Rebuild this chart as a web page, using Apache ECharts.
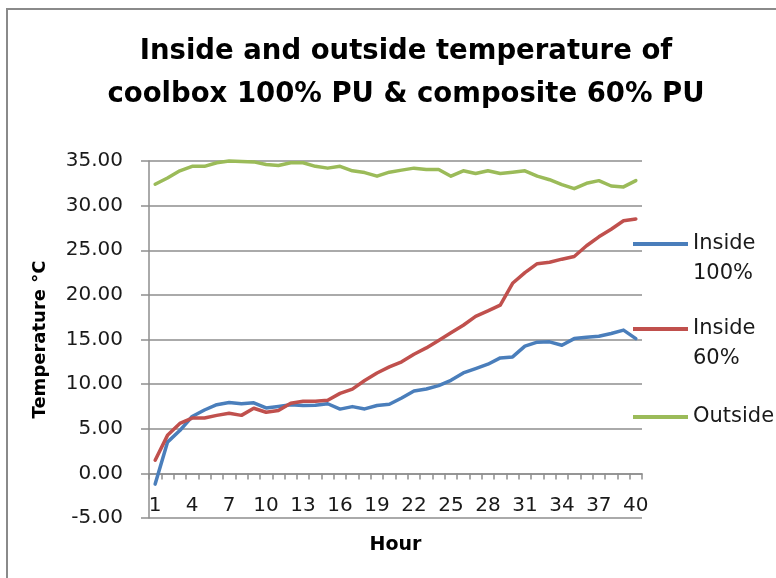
<!DOCTYPE html>
<html>
<head>
<meta charset="utf-8">
<script src="https://cdn.jsdelivr.net/npm/echarts@6.0.0/dist/echarts.min.js"></script>
<style>
  html, body { margin: 0; padding: 0; background: #ffffff; }
  #chart { width: 776px; height: 578px; }
</style>
</head>
<body>
<div id="chart"></div>
<script>
const hours = ['1','2','3','4','5','6','7','8','9','10','11','12','13','14','15','16','17','18','19','20',
               '21','22','23','24','25','26','27','28','29','30','31','32','33','34','35','36','37','38','39','40'];
const inside100 = [-1.2, 3.5, 4.8, 6.37, 7.1, 7.7, 7.93, 7.8, 7.9, 7.33, 7.5, 7.7, 7.6, 7.63, 7.8, 7.2, 7.48, 7.22, 7.6, 7.75,
                   8.45, 9.23, 9.46, 9.83, 10.43, 11.25, 11.74, 12.23, 12.94, 13.05, 14.25, 14.7, 14.74, 14.36, 15.1, 15.26, 15.37, 15.67, 16.05, 15.1];
const inside60 = [1.48, 4.26, 5.6, 6.2, 6.2, 6.5, 6.74, 6.5, 7.3, 6.85, 7.04, 7.85, 8.07, 8.07, 8.2, 8.96, 9.44, 10.4, 11.25, 11.93,
                  12.5, 13.35, 14.06, 14.9, 15.75, 16.6, 17.6, 18.2, 18.85, 21.3, 22.5, 23.5, 23.65, 24.0, 24.3, 25.5, 26.5, 27.35, 28.3, 28.5];
const outside = [32.4, 33.1, 33.9, 34.4, 34.4, 34.8, 35.0, 34.95, 34.9, 34.6, 34.5, 34.8, 34.8, 34.4, 34.2, 34.4, 33.9, 33.7, 33.3, 33.75,
                 33.98, 34.2, 34.05, 34.05, 33.3, 33.9, 33.6, 33.9, 33.6, 33.75, 33.9, 33.3, 32.9, 32.35, 31.9, 32.5, 32.8, 32.2, 32.1, 32.8];
const seriesNames = ['Inside 100%', 'Inside 60%', 'Outside'];
const yTicks = { min: -5, max: 35, interval: 5 };

const FONT = 'DejaVu Sans';
const GRID_COLOR = '#8e8e8e';
const colors = ['#4a7ebb', '#c0504d', '#9bbb59'];

// grid geometry
const GRID_TOP = 161, GRID_BOTTOM = 60, CH = 578;
const GRID_H = CH - GRID_TOP - GRID_BOTTOM;
// distance from bottom of plot (-5) up to the zero line, for the Excel-style crossing axis
const zeroOffset = -GRID_H * (0 - yTicks.min) / (yTicks.max - yTicks.min);

function makeLegend(name, top, twoLine) {
  return {
    data: [name],
    left: 633,
    top: top,
    orient: 'vertical',
    padding: 0,
    icon: 'rect',
    itemWidth: 55,
    itemHeight: 4,
    selectedMode: false,
    formatter: function (n) {
      if (!twoLine) return n;
      const parts = n.split(' ');
      return '\n' + parts[0] + '\n' + parts[1];
    },
    textStyle: {
      fontFamily: FONT,
      fontSize: 21,
      color: '#1a1a1a',
      lineHeight: 30
    }
  };
}

const chart = echarts.init(document.getElementById('chart'), null, { renderer: 'canvas' });
chart.setOption({
  animation: false,
  backgroundColor: '#ffffff',
  color: colors,
  title: {
    text: 'Inside and outside temperature of\ncoolbox 100% PU & composite 60% PU',
    left: 406,
    top: 30,
    padding: 0,
    textAlign: 'center',
    textStyle: {
      fontFamily: FONT,
      fontWeight: 'bold',
      fontSize: 27.5,
      lineHeight: 43,
      color: '#000000'
    }
  },
  graphic: [{
    type: 'rect',
    shape: { x: 7, y: 9, width: 900, height: 700 },
    style: { fill: null, stroke: '#8a8a8a', lineWidth: 2 },
    silent: true
  }],
  legend: [
    makeLegend(seriesNames[0], 199, true),
    makeLegend(seriesNames[1], 284, true),
    makeLegend(seriesNames[2], 402, false)
  ],
  grid: {
    left: 149,
    top: GRID_TOP,
    right: 134,
    bottom: GRID_BOTTOM,
    containLabel: false,
    outerBoundsMode: 'none'
  },
  xAxis: {
    type: 'category',
    data: hours,
    boundaryGap: true,
    offset: zeroOffset,
    name: 'Hour',
    nameLocation: 'middle',
    nameGap: 62,
    nameTextStyle: { fontFamily: FONT, fontWeight: 'bold', fontSize: 19, color: '#000000' },
    axisLine: { show: true, onZero: false, lineStyle: { color: GRID_COLOR, width: 1.5 } },
    axisTick: { show: true, interval: 0, length: 6, lineStyle: { color: GRID_COLOR, width: 1.5 } },
    axisLabel: { interval: 2, margin: 22, fontFamily: FONT, fontSize: 20, color: '#1a1a1a' },
    splitLine: { show: false }
  },
  yAxis: {
    type: 'value',
    min: yTicks.min,
    max: yTicks.max,
    interval: yTicks.interval,
    name: 'Temperature °C',
    nameLocation: 'middle',
    nameGap: 100,
    nameRotate: 90,
    nameTextStyle: { fontFamily: FONT, fontWeight: 'bold', fontSize: 18, color: '#000000' },
    axisLine: { show: true, lineStyle: { color: GRID_COLOR, width: 1.5 } },
    axisTick: { show: true, length: 8, lineStyle: { color: GRID_COLOR, width: 1.5 } },
    axisLabel: {
      margin: 26, fontFamily: FONT, fontSize: 20, color: '#1a1a1a',
      formatter: function (v) { return v.toFixed(2); }
    },
    splitLine: { show: true, lineStyle: { color: GRID_COLOR, width: 1.5 } }
  },
  series: [
    { name: seriesNames[0], type: 'line', data: inside100, showSymbol: false, clip: false,
      lineStyle: { width: 3.5, color: colors[0], join: 'round', cap: 'round' } },
    { name: seriesNames[1], type: 'line', data: inside60, showSymbol: false, clip: false,
      lineStyle: { width: 3.5, color: colors[1], join: 'round', cap: 'round' } },
    { name: seriesNames[2], type: 'line', data: outside, showSymbol: false, clip: false,
      lineStyle: { width: 3.5, color: colors[2], join: 'round', cap: 'round' } }
  ]
});
</script>
</body>
</html>
